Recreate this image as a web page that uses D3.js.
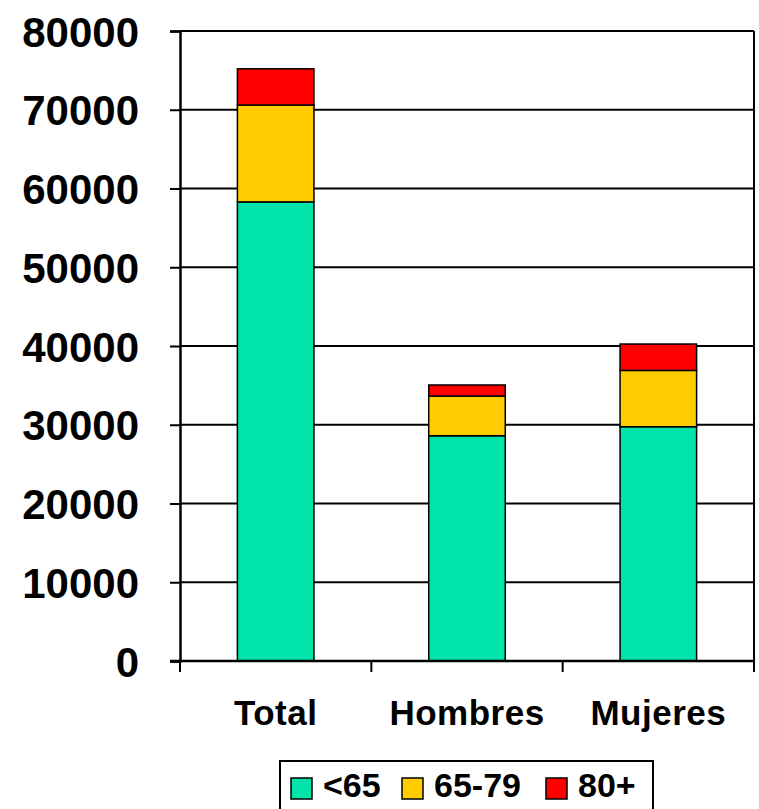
<!DOCTYPE html>
<html>
<head>
<meta charset="utf-8">
<script src="https://cdn.jsdelivr.net/npm/d3@7"></script>
<style>
  body { margin: 0; background: #fff; }
  text { font-family: "Liberation Sans", Arial, sans-serif; font-weight: bold; fill: #000; }
</style>
</head>
<body>
<div id="chart"></div>
<script>
// data
var categories = ["Total", "Hombres", "Mujeres"];
var groups = ["<65", "65-79", "80+"];
var under65 = [58300, 28600, 29750];
var from65to79 = [12300, 5050, 7150];
var over80 = [4600, 1400, 3350];
var yTicks = [0, 10000, 20000, 30000, 40000, 50000, 60000, 70000, 80000];
var colors = ["#00e3a9", "#ffcc00", "#ff0000"];

var width = 759, height = 809;
var margin = { left: 180, right: 5, top: 31, bottom: 148 };

var svg = d3.select("#chart").append("svg")
  .attr("width", width)
  .attr("height", height);

var x = d3.scaleBand()
  .domain(categories)
  .range([margin.left, width - margin.right])
  .paddingInner(0.6)
  .paddingOuter(0.3);

var y = d3.scaleLinear()
  .domain([0, 80000])
  .range([height - margin.bottom, margin.top]);

// stack the three series
var table = categories.map(function (c, i) {
  return { cat: c, "<65": under65[i], "65-79": from65to79[i], "80+": over80[i] };
});
var stack = d3.stack().keys(groups)(table);

// gridlines
svg.append("g")
  .selectAll("line")
  .data(yTicks.slice(1))
  .enter().append("line")
  .attr("x1", margin.left)
  .attr("x2", width - margin.right)
  .attr("y1", y)
  .attr("y2", y)
  .attr("stroke", "#000")
  .attr("stroke-width", 2);

// right border of plot area
svg.append("line")
  .attr("x1", width - margin.right).attr("x2", width - margin.right)
  .attr("y1", y(80000)).attr("y2", y(0))
  .attr("stroke", "#000").attr("stroke-width", 2);

// bars
svg.append("g")
  .selectAll("g")
  .data(stack)
  .enter().append("g")
  .attr("fill", function (d, i) { return colors[i]; })
  .selectAll("rect")
  .data(function (d) { return d; })
  .enter().append("rect")
  .attr("x", function (d) { return x(d.data.cat); })
  .attr("width", x.bandwidth())
  .attr("y", function (d) { return y(d[1]); })
  .attr("height", function (d) { return y(d[0]) - y(d[1]); })
  .attr("stroke", "#000")
  .attr("stroke-width", 1.5);

// y axis
var yAxis = svg.append("g")
  .attr("transform", "translate(" + margin.left + ",0)")
  .call(d3.axisLeft(y).tickValues(yTicks).tickSize(10).tickPadding(31).tickFormat(d3.format("d")));
yAxis.select(".domain").attr("stroke-width", 2.5);
yAxis.selectAll(".tick line").attr("stroke-width", 2);
yAxis.selectAll("text")
  .style("font-size", "42px")
  .attr("dy", "0.36em");

// x axis with ticks on band edges
var xAxis = svg.append("g")
  .attr("transform", "translate(0," + y(0) + ")");
xAxis.append("line")
  .attr("x1", margin.left - 10).attr("x2", width - margin.right)
  .attr("stroke", "#000").attr("stroke-width", 2.5);
var edges = [margin.left].concat(categories.map(function (c) {
  return x(c) + x.bandwidth() + x.step() * x.paddingInner() / 2;
}));
edges[edges.length - 1] = width - margin.right;
xAxis.selectAll(".edge")
  .data(edges)
  .enter().append("line")
  .attr("class", "edge")
  .attr("x1", function (d) { return d; })
  .attr("x2", function (d) { return d; })
  .attr("y1", 0).attr("y2", 11)
  .attr("stroke", "#000").attr("stroke-width", 2);
xAxis.selectAll("text")
  .data(categories)
  .enter().append("text")
  .attr("x", function (d) { return x(d) + x.bandwidth() / 2; })
  .attr("y", 64)
  .attr("text-anchor", "middle")
  .style("font-size", "35px")
  .style("letter-spacing", "0.5px")
  .text(function (d) { return d; });

// legend
var legend = svg.append("g");
legend.append("rect")
  .attr("x", 280).attr("y", 761)
  .attr("width", 373).attr("height", 60)
  .attr("fill", "#fff").attr("stroke", "#000").attr("stroke-width", 2);
var legendX = [291, 402, 546];
var items = legend.selectAll(".item")
  .data(groups)
  .enter().append("g")
  .attr("class", "item")
  .attr("transform", function (d, i) { return "translate(" + legendX[i] + ",778)"; });
items.append("rect")
  .attr("width", 21).attr("height", 21)
  .attr("fill", function (d, i) { return colors[i]; })
  .attr("stroke", "#000").attr("stroke-width", 1.5);
items.append("text")
  .attr("x", 32)
  .attr("y", 19)
  .style("font-size", "34px")
  .text(function (d) { return d; });
</script>
</body>
</html>
